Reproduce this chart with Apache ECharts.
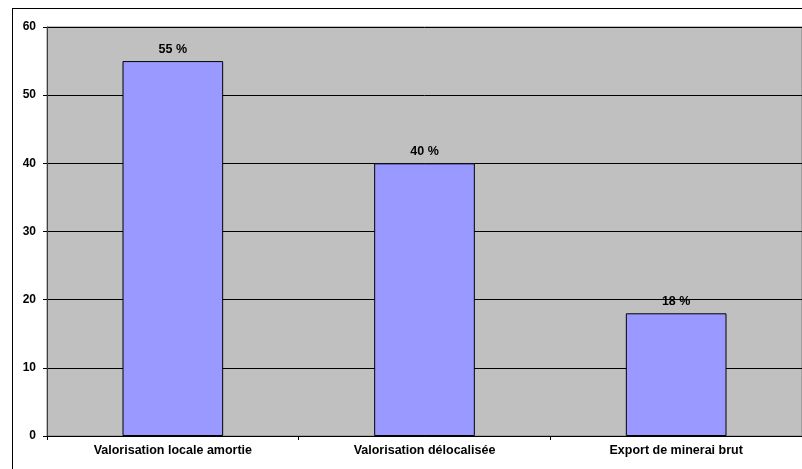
<!DOCTYPE html>
<html><head><meta charset="utf-8">
<script src="https://cdn.jsdelivr.net/npm/echarts@6/dist/echarts.min.js"></script>
<style>html,body{margin:0;padding:0;background:#fff;overflow:hidden}#c{width:802px;height:469px;position:relative}
#frame{position:absolute;left:12px;top:8px;width:800px;height:470px;border:1px solid #000;box-sizing:border-box;pointer-events:none}</style>
</head><body><div id="c"></div><div id="frame"></div>
<script>
const categories = ["Valorisation locale amortie", "Valorisation délocalisée", "Export de minerai brut"];
const values = [55, 40, 18];
const valueLabels = ["55 %", "40 %", "18 %"];
const yTicks = [0, 10, 20, 30, 40, 50, 60];

const chart = echarts.init(document.getElementById('c'), null, {renderer: 'canvas'});
chart.setOption({
  animation: false,
  textStyle: {fontFamily: 'Liberation Sans, Arial, sans-serif'},
  grid: {left: 47, width: 760, top: 27, bottom: 33, containLabel: false,
         show: true, backgroundColor: '#C0C0C0', borderColor: '#808080', borderWidth: 1},
  xAxis: {
    type: 'category', data: categories,
    axisLine: {lineStyle: {color: '#000', width: 1}},
    axisTick: {show: true, alignWithLabel: false, length: 4, lineStyle: {color: '#000'}},
    axisLabel: {color: '#000', fontWeight: 'bold', fontSize: 12.5, margin: 8}
  },
  yAxis: {
    type: 'value', min: yTicks[0], max: yTicks[yTicks.length - 1], interval: 10,
    axisLine: {show: true, lineStyle: {color: '#404040', width: 1}},
    axisTick: {show: true, length: 4, lineStyle: {color: '#000'}},
    axisLabel: {color: '#000', fontWeight: 'bold', fontSize: 12, margin: 11},
    splitLine: {show: true, lineStyle: {color: '#000', width: 1}}
  },
  series: [{
    type: 'bar',
    data: values,
    barWidth: '40%',
    itemStyle: {color: '#9999FF', borderColor: '#000', borderWidth: 1},
    label: {show: true, position: 'top', distance: 5, color: '#000', fontWeight: 'bold', fontSize: 12.5,
            formatter: p => valueLabels[p.dataIndex]}
  }]
});
</script></body></html>
